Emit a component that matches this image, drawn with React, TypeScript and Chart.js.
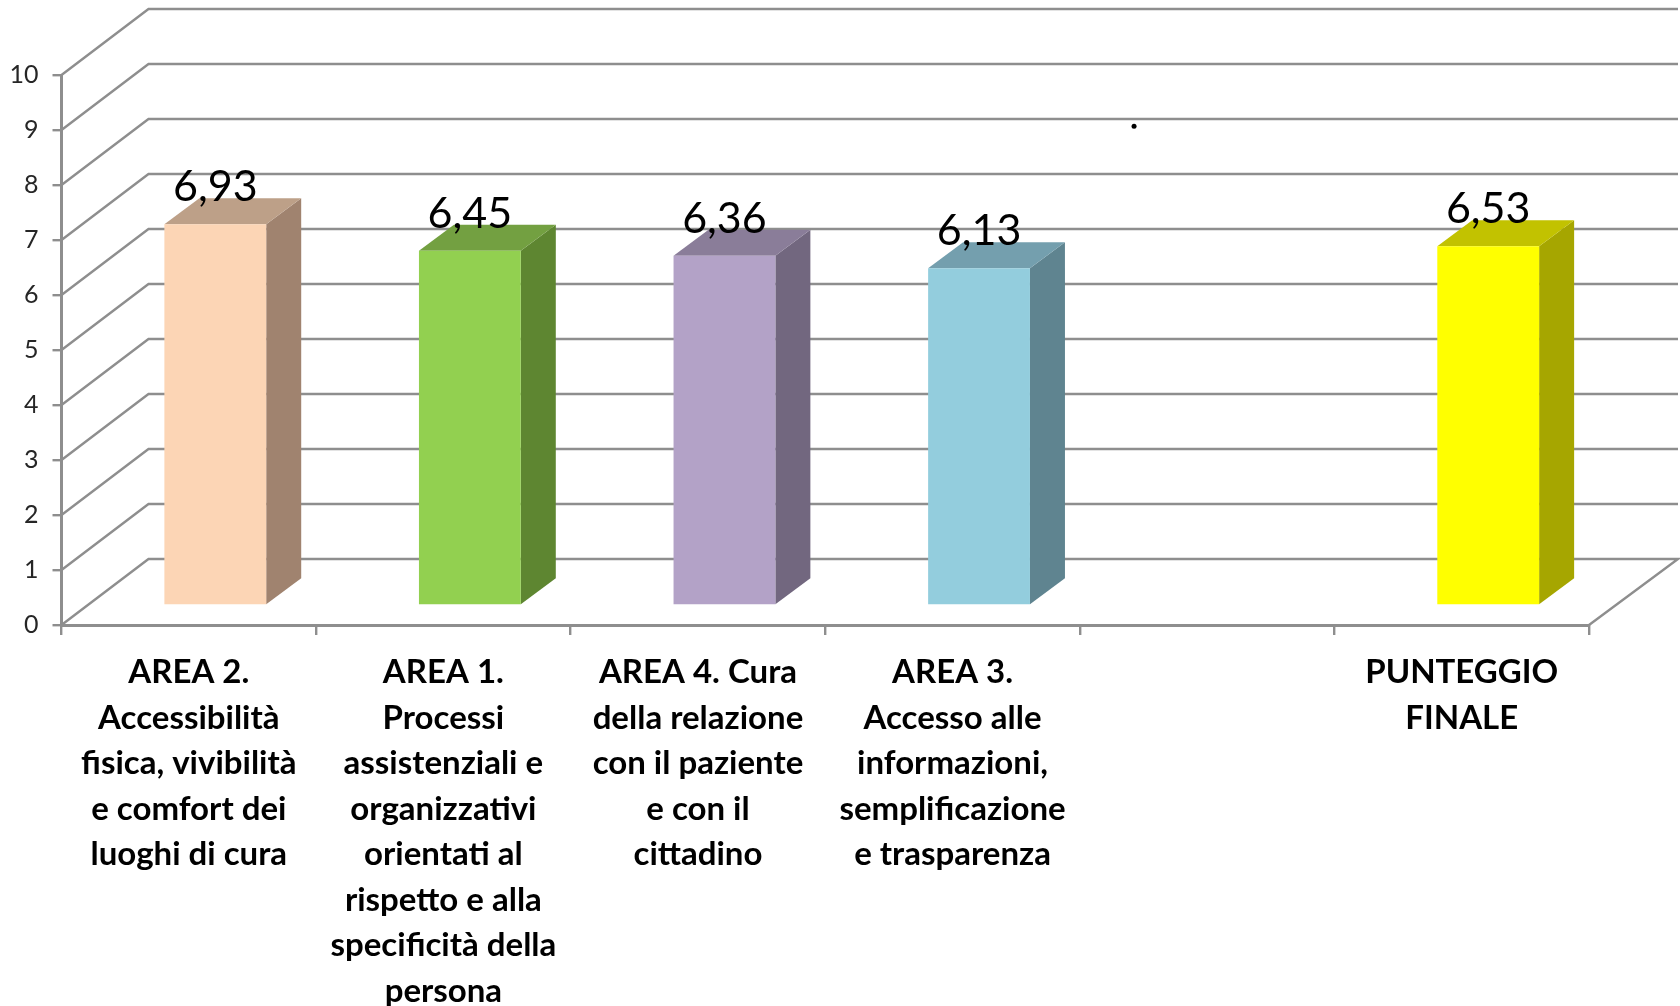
import React, { useEffect, useRef } from "react";
import { Chart, registerables } from "chart.js";

Chart.register(...registerables);

const categories: string[][] = [
  ["AREA 2.", "Accessibilità", "fisica, vivibilità", "e comfort dei", "luoghi di cura"],
  ["AREA 1.", "Processi", "assistenziali e", "organizzativi", "orientati al", "rispetto e alla", "specificità della", "persona"],
  ["AREA 4. Cura", "della relazione", "con il paziente", "e con il", "cittadino"],
  ["AREA 3.", "Accesso alle", "informazioni,", "semplificazione", "e trasparenza"],
  [""],
  ["PUNTEGGIO", "FINALE"],
];
const scores: (number | null)[] = [6.93, 6.45, 6.36, 6.13, null, 6.53];
const faceColors = ["#FCD5B5", "#92D050", "#B3A2C7", "#93CDDD", "#FFFF00", "#FFFF00"];
const sideColors = ["#A0836F", "#5E8631", "#72677F", "#5F8490", "#A6A600", "#A6A600"];
const topColors = ["#BDA088", "#73A041", "#8A7D99", "#749FAE", "#C2C200", "#C2C200"];
const strayDot = [{ x: 4.213, y: 9.07 }];

const GRID = "#8E8E8E";
const WALL_DX = 87;
const WALL_DY = 66;
const BAR_DX = 35;
const BAR_DY = 26;
const FLOOR_DX = 26.5;
const FLOOR_DY = 19.5;

// Side walls and back wall of the 3D box, one line per y tick.
const wallPlugin = {
  id: "wall",
  beforeDatasetsDraw(chart: any) {
    const { ctx, chartArea, scales } = chart;
    const { left, right } = chartArea;
    ctx.save();
    ctx.strokeStyle = GRID;
    ctx.lineWidth = 2.4;
    ctx.lineJoin = "miter";
    for (const tick of scales.y.ticks) {
      const y = scales.y.getPixelForValue(tick.value);
      ctx.beginPath();
      ctx.moveTo(left, y);
      ctx.lineTo(left + WALL_DX, y - WALL_DY);
      ctx.lineTo(right + WALL_DX + 2, y - WALL_DY);
      if (tick.value === 0) ctx.lineTo(right, y);
      ctx.stroke();
    }
    ctx.restore();
  },
};

// Shifts the bars onto the floor and adds the top and side faces of each prism.
const prismPlugin = {
  id: "prism",
  beforeDatasetDraw(chart: any, args: any) {
    if (args.index !== 0) return;
    const { ctx } = chart;
    ctx.save();
    ctx.translate(FLOOR_DX, -FLOOR_DY);
    args.meta.data.forEach((bar: any, i: number) => {
      if (scores[i] === null) return;
      const { x, y, base, width } = bar.getProps(["x", "y", "base", "width"], true);
      const r = x + width / 2;
      const l = x - width / 2;
      ctx.fillStyle = sideColors[i];
      ctx.beginPath();
      ctx.moveTo(r, y);
      ctx.lineTo(r + BAR_DX, y - BAR_DY);
      ctx.lineTo(r + BAR_DX, base - BAR_DY);
      ctx.lineTo(r, base);
      ctx.closePath();
      ctx.fill();
      ctx.fillStyle = topColors[i];
      ctx.beginPath();
      ctx.moveTo(l, y);
      ctx.lineTo(r, y);
      ctx.lineTo(r + BAR_DX, y - BAR_DY);
      ctx.lineTo(l + BAR_DX, y - BAR_DY);
      ctx.closePath();
      ctx.fill();
    });
  },
  afterDatasetDraw(chart: any, args: any) {
    if (args.index !== 0) return;
    chart.ctx.restore();
  },
  afterDatasetsDraw(chart: any) {
    const { ctx } = chart;
    const meta = chart.getDatasetMeta(0);
    ctx.save();
    ctx.font = "43px Lato";
    ctx.fillStyle = "#000000";
    ctx.textAlign = "center";
    ctx.textBaseline = "alphabetic";
    meta.data.forEach((bar: any, i: number) => {
      const v = scores[i];
      if (v === null) return;
      const { x, y } = bar.getProps(["x", "y"], true);
      ctx.fillText(v.toFixed(2).replace(".", ","), x + FLOOR_DX, y - FLOOR_DY - 23);
    });
    ctx.restore();
  },
};

export default function App() {
  const ref = useRef<HTMLCanvasElement>(null);
  useEffect(() => {
    const chart = new Chart(ref.current!, {
      type: "bar",
      data: {
        labels: categories as any,
        datasets: [
          {
            data: scores as any,
            backgroundColor: faceColors,
            barPercentage: 0.4,
            categoryPercentage: 1,
            grouped: false,
            xAxisID: "x",
            yAxisID: "y",
          } as any,
          {
            type: "scatter",
            data: strayDot as any,
            xAxisID: "xDot",
            yAxisID: "y",
            pointRadius: 2.5,
            backgroundColor: "#000000",
            borderWidth: 0,
          } as any,
        ],
      },
      options: {
        animation: false,
        responsive: false,
        layout: { padding: { top: 75, right: 91, left: 0, bottom: 0 } },
        plugins: { legend: { display: false }, tooltip: { enabled: false } },
        scales: {
          x: {
            type: "category",
            offset: true,
            border: { color: GRID, width: 3 },
            grid: {
              offset: true,
              drawOnChartArea: false,
              drawTicks: true,
              color: GRID,
              lineWidth: 2.4,
              tickLength: 10,
            },
            ticks: {
              autoSkip: false,
              maxRotation: 0,
              minRotation: 0,
              padding: 15,
              color: "#000000",
              font: { family: "Lato", size: 33, weight: "bold", lineHeight: 45.5 / 33 },
            },
            afterFit(scale: any) {
              scale.height = 381;
            },
          },
          xDot: { type: "linear", display: false, offset: false, min: 0, max: 6, position: "bottom" },
          y: {
            min: 0,
            max: 10,
            border: { color: GRID, width: 3 },
            grid: {
              drawOnChartArea: false,
              drawTicks: true,
              color: GRID,
              lineWidth: 2.4,
              tickLength: 9,
            },
            ticks: {
              stepSize: 1,
              padding: 14,
              color: "#262626",
              font: { family: "Lato", size: 25 },
            },
            afterFit(scale: any) {
              scale.width = 61.5;
            },
          },
        },
      },
      plugins: [wallPlugin, prismPlugin],
    });
    return () => chart.destroy();
  }, []);
  return (
    <div style={{ position: "absolute", left: 0, top: 0, width: 1680, height: 1006, background: "#ffffff" }}>
      <canvas ref={ref} width={1680} height={1006} style={{ display: "block" }} />
    </div>
  );
}
